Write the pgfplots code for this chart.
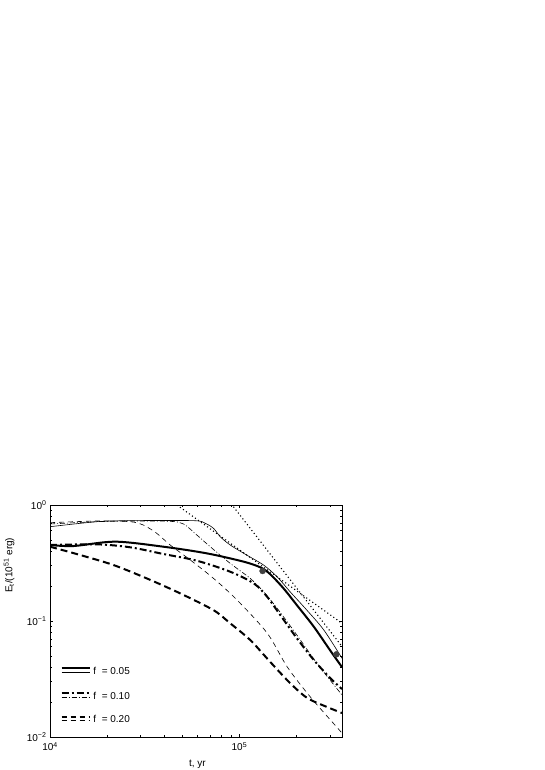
\documentclass[border=0pt]{standalone}
\usepackage{pgfplots}
\pgfplotsset{compat=1.18}
\usepackage{fontspec}
\setmainfont{Liberation Sans}
\colorlet{thin}{black!62}
\begin{document}
\begin{tikzpicture}[x=1pt,y=1pt]
\useasboundingbox (0,0) rectangle (545,770);
\begin{axis}[
  at={(50pt,33pt)}, anchor=south west,
  scale only axis, width=292pt, height=232pt,
  xmode=log, ymode=log,
  xmin=1e4, xmax=3.48e5, ymin=1e-2, ymax=1,
  xtick={1e4,1e5}, xticklabels={10\textsuperscript{4},10\textsuperscript{5}},
  ytick={1e-2,1e-1,1}, yticklabels={10\textsuperscript{−2},10\textsuperscript{−1},10\textsuperscript{0}},
  minor xtick={2e4,3e4,4e4,5e4,6e4,7e4,8e4,9e4,2e5,3e5},
  minor ytick={2e-2,3e-2,4e-2,5e-2,6e-2,7e-2,8e-2,9e-2,0.2,0.3,0.4,0.5,0.6,0.7,0.8,0.9},
  tick align=inside,
  major tick length=3pt, minor tick length=1.8pt,
  every tick/.style={black, line width=0.5pt},
  axis line style={line width=0.8pt},
  tick label style={font=\fontsize{10}{12}\selectfont},
  xticklabel style={yshift=-2pt},
  xlabel={t, yr}, ylabel={E\textsubscript{t}/(10\textsuperscript{51} erg)},
  label style={font=\fontsize{10}{12}\selectfont},
  xlabel style={at={(axis description cs:0.505,0)}, anchor=north, yshift=-19pt},
  ylabel style={at={(axis description cs:-0.11,0.74)}, anchor=south},
  clip=true,
]
% thin lines
\addplot[thin, line width=0.6pt, smooth] coordinates {
(1e4,0.650) (1.77e4,0.718) (2.65e4,0.733) (5.73e4,0.733) (6.6e4,0.695) (7.3e4,0.629)
(7.92e4,0.533) (8.94e4,0.452) (1.09e5,0.371) (1.34e5,0.304) (1.58e5,0.241) (1.85e5,0.179)
(2.27e5,0.124) (2.79e5,0.0836) (3.48e5,0.0477)};
\addplot[thin, line width=0.6pt, smooth, dash pattern=on 5pt off 2pt on 1pt off 2pt] coordinates {
(1e4,0.686) (1.77e4,0.718) (2.65e4,0.728) (4.31e4,0.723) (5.07e4,0.686) (5.96e4,0.551)
(7.01e4,0.437) (8.94e4,0.314) (1.14e5,0.233) (1.34e5,0.179) (1.58e5,0.129) (2.01e5,0.0757)
(2.57e5,0.0431) (3.48e5,0.0230)};
\addplot[thin, line width=0.6pt, smooth, dash pattern=on 5pt off 4pt] coordinates {
(1e4,0.704) (1.77e4,0.728) (2.65e4,0.718) (3.11e4,0.672) (3.66e4,0.570) (4.31e4,0.452)
(5.5e4,0.336) (7.3e4,0.233) (9.7e4,0.152) (1.40e5,0.0788) (1.79e5,0.0401) (2.37e5,0.0221)
(3.29e5,0.0120) (3.48e5,0.0108)};
% dotted power laws
\addplot[black, line width=1.1pt, dash pattern=on 1.1pt off 2.6pt] coordinates {(4.68e4,1.0) (3.48e5,0.0955)};
\addplot[black, line width=1.1pt, dash pattern=on 1.1pt off 2.6pt] coordinates {(9.3e4,0.966) (3.48e5,0.0603)};
% thick lines
\addplot[black, line width=2pt, smooth] coordinates {
(1e4,0.452) (1.33e4,0.443) (2.21e4,0.483) (3.97e4,0.437) (6.73e4,0.383) (1.05e5,0.325)
(1.29e5,0.290) (1.45e5,0.254) (1.71e5,0.191) (2.01e5,0.137) (2.47e5,0.0893) (3.02e5,0.0555)
(3.48e5,0.0400)};
\addplot[black, line width=2pt, smooth, dash pattern=on 7pt off 3pt on 2pt off 3pt] coordinates {
(1e4,0.452) (1.77e4,0.458) (2.65e4,0.432) (3.97e4,0.378) (5.96e4,0.331) (8.94e4,0.266)
(1.19e5,0.211) (1.40e5,0.162) (1.64e5,0.113) (2.01e5,0.071) (2.47e5,0.0461) (3.02e5,0.0321)
(3.48e5,0.0259)};
\addplot[black, line width=2pt, smooth, dash pattern=on 7pt off 4pt] coordinates {
(1e4,0.437) (1.44e4,0.371) (2.16e4,0.304) (3.24e4,0.233) (4.87e4,0.173) (7.3e4,0.124)
(8.94e4,0.0955) (1.14e5,0.0686) (1.45e5,0.0446) (1.85e5,0.0292) (2.28e5,0.0217)
(2.91e5,0.0181) (3.48e5,0.0161)};
% markers
\addplot[only marks, mark=*, mark size=3pt, fill=black!75, draw=black!75] coordinates {(1.325e5,0.270) (3.25e5,0.0516)};
% legend
\draw[black, line width=2pt] (axis description cs:0.040,0.296) -- (axis description cs:0.137,0.296);
\draw[thin, line width=0.6pt] (axis description cs:0.040,0.277) -- (axis description cs:0.137,0.277);
\node[anchor=west, font=\fontsize{10}{12}\selectfont, inner sep=0pt] at (axis description cs:0.148,0.283) {f\ \ = 0.05};
\draw[black, line width=2pt, dash pattern=on 7pt off 3pt on 2pt off 3pt] (axis description cs:0.040,0.188) -- (axis description cs:0.137,0.188);
\draw[thin, line width=0.6pt, dash pattern=on 5pt off 2pt on 1pt off 2pt] (axis description cs:0.040,0.171) -- (axis description cs:0.137,0.171);
\node[anchor=west, font=\fontsize{10}{12}\selectfont, inner sep=0pt] at (axis description cs:0.148,0.178) {f\ \ = 0.10};
\draw[black, line width=2pt, dash pattern=on 5pt off 4pt] (axis description cs:0.040,0.0875) -- (axis description cs:0.137,0.0875);
\draw[thin, line width=0.6pt, dash pattern=on 5pt off 4pt] (axis description cs:0.040,0.070) -- (axis description cs:0.137,0.070);
\node[anchor=west, font=\fontsize{10}{12}\selectfont, inner sep=0pt] at (axis description cs:0.148,0.080) {f\ \ = 0.20};
\end{axis}
\end{tikzpicture}
\end{document}
